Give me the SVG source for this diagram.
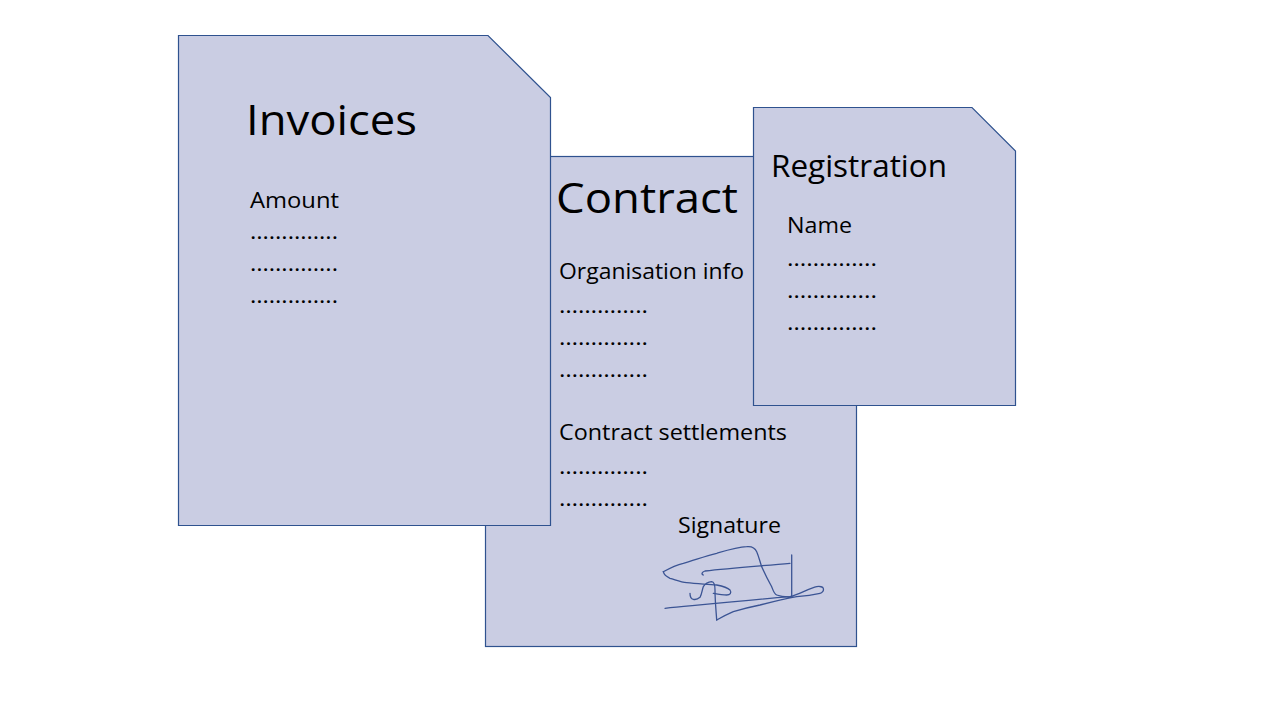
<svg xmlns="http://www.w3.org/2000/svg" width="1280" height="720" viewBox="0 0 1280 720">
<style>
.doc{fill:#CACDE3;stroke:#2F528F;stroke-width:1.2}
text{font-family:"Open Sans","Noto Sans","Liberation Sans",sans-serif;fill:#000}
.t{font-size:42px}
.r{font-size:31px}
.b{font-size:21px}
.sig{fill:none;stroke:#3B5494;stroke-width:1.3;stroke-linejoin:round;stroke-linecap:round}
</style>
<rect width="1280" height="720" fill="#fff"/>
<g id="contract">
<rect class="doc" x="485.5" y="156.5" width="371" height="490"/>
<text class="t" x="556" y="213" textLength="182" lengthAdjust="spacingAndGlyphs">Contract</text>
<text class="b" x="559" y="279" textLength="185" lengthAdjust="spacingAndGlyphs">Organisation info</text>
<text class="b" x="559" y="313" textLength="89" lengthAdjust="spacingAndGlyphs">…………..</text>
<text class="b" x="559" y="345" textLength="89" lengthAdjust="spacingAndGlyphs">…………..</text>
<text class="b" x="559" y="377" textLength="89" lengthAdjust="spacingAndGlyphs">…………..</text>
<text class="b" x="559" y="440" textLength="228" lengthAdjust="spacingAndGlyphs">Contract settlements</text>
<text class="b" x="559" y="474" textLength="89" lengthAdjust="spacingAndGlyphs">…………..</text>
<text class="b" x="559" y="506" textLength="89" lengthAdjust="spacingAndGlyphs">…………..</text>
<text class="b" x="678" y="533" textLength="103" lengthAdjust="spacingAndGlyphs">Signature</text>
<path class="sig" d="M663.3,571.7 C670,568 676,565 683.3,563.3 C695,560 705,556 716.7,553.3 C728,550 738,547 746.7,546.7 C752,546 755,548 756.7,551.7 C759,557 760,562 761.7,566.7 C765,574 768,580 771.7,586.7 C773,590 774,594 776.7,595 C782,597 787,597 791.7,596.7 L791.7,555"/>
<path class="sig" d="M703.3,575 C701,574 702,572 705,571 C730,568 760,566 790,563.3"/>
<path class="sig" d="M663.3,571.7 C664,575 667,577 670,578.3 C676,580 681,582 686.7,582.7 C697,584 707,584 716.7,585 C722,586 727,587 730,590 C732,593 730,595 726.7,595 C722,595 717,594 713.3,593.3"/>
<path class="sig" d="M665,608.3 C710,604 750,600 790,596.7 C800,594 810,588 816.7,586.7 C820,586 823,587 823.3,588.3 C824,591 822,593 820,593.3 C812,595 804,596 796.7,596.7 C784,599 772,602 760,605 C750,607 742,609 733.3,611.7 C728,614 722,617 716.7,620"/>
<path class="sig" d="M690,593.3 C690,596 691,599 693.3,599.3 C696,600 698,599 700,597.3 C702,594 702,590 703.3,586.7 C705,584 708,582 711.7,581.7 C714,582 715,586 715,590 C715,600 716,610 716.7,620"/>
</g>
<g id="invoices">
<path class="doc" d="M178.5,35.5 H488 L550.5,97.5 V525.5 H178.5 Z"/>
<text class="t" x="246" y="135" textLength="171" lengthAdjust="spacingAndGlyphs">Invoices</text>
<text class="b" x="250" y="208" textLength="89" lengthAdjust="spacingAndGlyphs">Amount</text>
<text class="b" x="250" y="239" textLength="88" lengthAdjust="spacingAndGlyphs">…………..</text>
<text class="b" x="250" y="271" textLength="88" lengthAdjust="spacingAndGlyphs">…………..</text>
<text class="b" x="250" y="303" textLength="88" lengthAdjust="spacingAndGlyphs">…………..</text>
</g>
<g id="registration">
<path class="doc" d="M753.5,107.5 H972 L1015.5,151 V405.5 H753.5 Z"/>
<text class="r" x="771" y="177" textLength="176" lengthAdjust="spacingAndGlyphs">Registration</text>
<text class="b" x="787" y="233" textLength="65" lengthAdjust="spacingAndGlyphs">Name</text>
<text class="b" x="787" y="266" textLength="90" lengthAdjust="spacingAndGlyphs">…………..</text>
<text class="b" x="787" y="298" textLength="90" lengthAdjust="spacingAndGlyphs">…………..</text>
<text class="b" x="787" y="330" textLength="90" lengthAdjust="spacingAndGlyphs">…………..</text>
</g>
</svg>
